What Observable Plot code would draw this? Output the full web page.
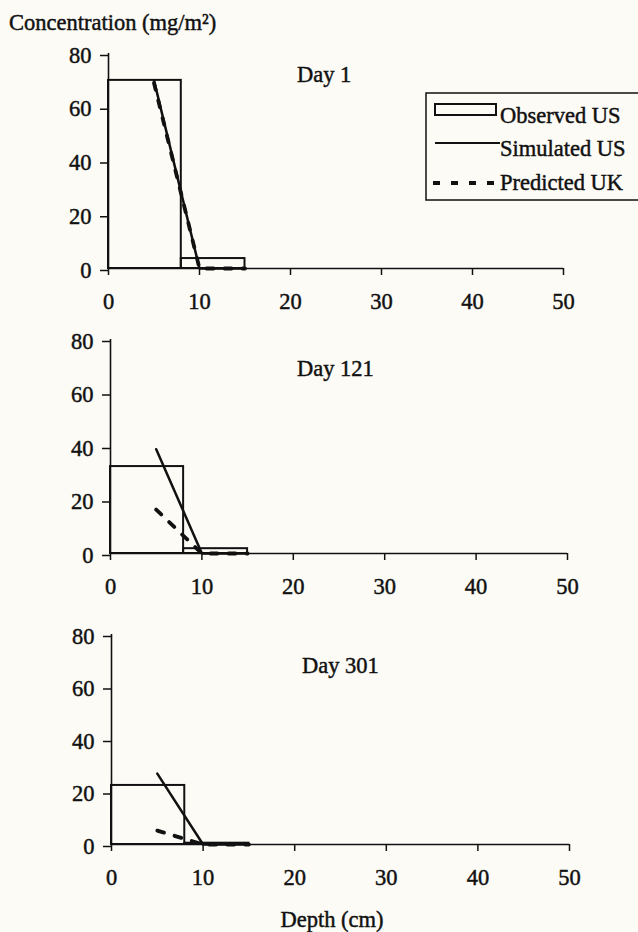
<!DOCTYPE html>
<html><head><meta charset="utf-8">
<script src="https://cdn.jsdelivr.net/npm/d3@7"></script>
<script src="https://cdn.jsdelivr.net/npm/@observablehq/plot@0.6"></script>
<style>
html,body{margin:0;padding:0;background:#fcfbf6;}
#wrap{position:relative;width:638px;height:932px;overflow:hidden;font-family:"Liberation Serif","Times New Roman",serif;color:#111;background:#fcfbf6;}
#wrap svg{position:absolute;left:0;top:0;}
#wrap text{stroke:#111;stroke-width:0.45px;}
</style></head><body><div id="wrap"></div>
<script>
// ---- data ----
const dayLabels = ["Day 1", "Day 121", "Day 301"];
const observedDepthStart = [0, 8];
const observedDepthEnd = [8, 15];
const observedDay1 = [70, 3.7];
const observedDay121 = [32.5, 1.8];
const observedDay301 = [22.5, 0.5];
const modelDepths = [5, 10, 15];
const simulatedDay1 = [70, 0, 0];
const simulatedDay121 = [39, 0, 0];
const simulatedDay301 = [27, 0, 0];
const predictedDay1 = [69, 0, 0];
const predictedDay121 = [16.4, 0, 0];
const predictedDay301 = [5.3, 0, 0];
const xTicks = [0, 10, 20, 30, 40, 50];
const yTicks = [0, 20, 40, 60, 80];
const legendLabels = ["Observed US", "Simulated US", "Predicted UK"];
const yTitle = "Concentration (mg/m²)";
const xTitle = "Depth (cm)";

// ---- layout ----
const W = 638, H = 932, INK = "#111", FS = 22.5;
const FONT = '"Liberation Serif","Times New Roman",serif';
const layout = [
  {top: 53, bottom: 268, left: 108, right: 563, lx: 297, ly: 82},
  {top: 339, bottom: 553, left: 110, right: 567, lx: 297, ly: 376},
  {top: 634, bottom: 844, left: 111, right: 569, lx: 302, ly: 673}
];
const series = [
  [observedDay1, simulatedDay1, predictedDay1],
  [observedDay121, simulatedDay121, predictedDay121],
  [observedDay301, simulatedDay301, predictedDay301]
];

const wrap = document.getElementById("wrap");

series.forEach(([obs, sim, pred], i) => {
  const L = layout[i];
  const obsRows = obs.map((v, j) => ({x1: observedDepthStart[j], x2: observedDepthEnd[j], v}));
  const simRows = sim.map((v, j) => ({d: modelDepths[j], v}));
  const predRows = pred.map((v, j) => ({d: modelDepths[j], v}));
  const chart = Plot.plot({
    width: W, height: H,
    marginTop: L.top, marginBottom: H - L.bottom,
    marginLeft: L.left, marginRight: W - L.right,
    style: {background: "transparent", fontFamily: FONT, fontSize: FS + "px", color: INK, overflow: "visible"},
    x: {domain: [0, 50]},
    y: {domain: [0, 80]},
    marks: [
      Plot.rect(obsRows, {x1: "x1", x2: "x2", y1: 0, y2: "v", fill: "none", stroke: INK, strokeWidth: 2}),
      Plot.ruleX([0], {y1: 0, y2: 80, stroke: INK, strokeWidth: 1.6}),
      Plot.ruleY([0], {x1: 0, x2: 50, stroke: INK, strokeWidth: 1.6}),
      Plot.line(simRows, {x: "d", y: "v", stroke: INK, strokeWidth: 2.5}),
      Plot.line(predRows, {x: "d", y: "v", stroke: INK, strokeWidth: 3.8, strokeDasharray: "7,11"}),
      Plot.axisX({ticks: xTicks, tickSize: 7, tickPadding: 18, label: null, strokeWidth: 1.5, fontSize: FS}),
      Plot.axisY({ticks: yTicks, tickSize: 8, tickPadding: 9, label: null, strokeWidth: 1.5, fontSize: FS, dy: 2})
    ]
  });
  wrap.appendChild(chart);
});

// ---- annotations & legend ----
const svg = d3.select(wrap).append("svg").attr("width", W).attr("height", H)
  .style("font-family", FONT).style("font-size", FS + "px").attr("fill", INK);
svg.append("text").attr("x", 9).attr("y", 30).text(yTitle);
svg.append("text").attr("x", 332).attr("y", 927).attr("text-anchor", "middle").text(xTitle);
layout.forEach((L, i) => svg.append("text").attr("x", L.lx).attr("y", L.ly).text(dayLabels[i]));

const lg = svg.append("g");
lg.append("rect").attr("x", 426).attr("y", 93).attr("width", 230).attr("height", 107)
  .attr("fill", "none").attr("stroke", INK).attr("stroke-width", 1.5);
lg.append("rect").attr("x", 435).attr("y", 104).attr("width", 61).attr("height", 11)
  .attr("fill", "none").attr("stroke", INK).attr("stroke-width", 2);
lg.append("line").attr("x1", 435).attr("x2", 500).attr("y1", 143).attr("y2", 143)
  .attr("stroke", INK).attr("stroke-width", 2);
lg.append("line").attr("x1", 433).attr("x2", 500).attr("y1", 183).attr("y2", 183)
  .attr("stroke", INK).attr("stroke-width", 4).attr("stroke-dasharray", "7,11");
const baselines = [123, 156, 190];
legendLabels.forEach((t, i) => lg.append("text").attr("x", 500).attr("y", baselines[i]).text(t));
</script>
</body></html>
